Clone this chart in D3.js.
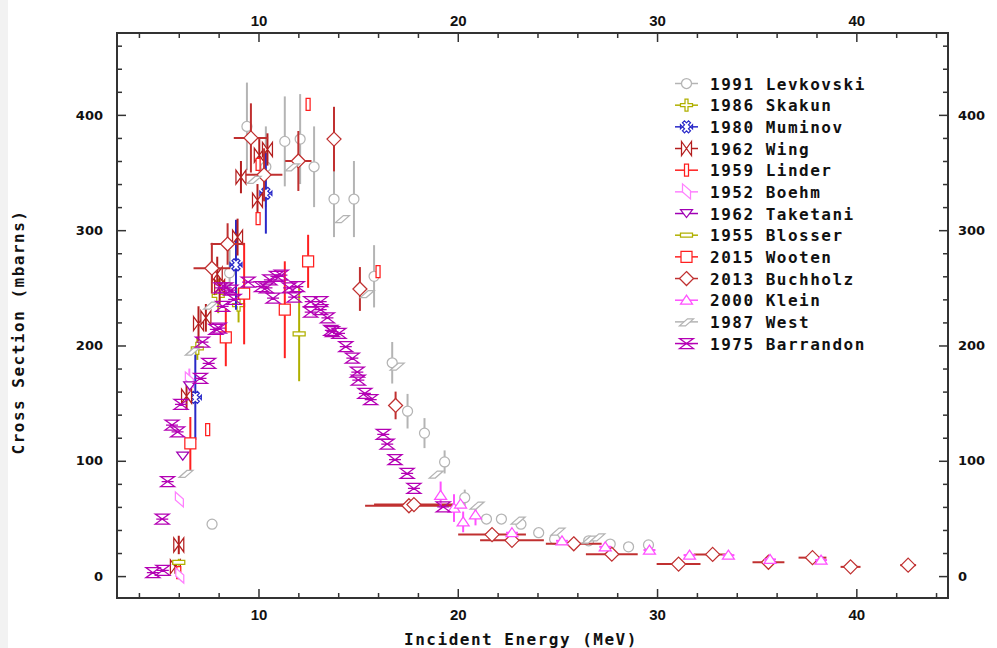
<!DOCTYPE html>
<html><head><meta charset="utf-8">
<script src="https://cdn.jsdelivr.net/npm/d3@7"></script>
<style>
body{margin:0;background:#fff;}
svg{display:block;}
.mono{font-family:"DejaVu Sans Mono","Liberation Mono",monospace;font-weight:bold;font-size:16px;letter-spacing:1.5px;fill:#111;}
.tick text{font-family:"DejaVu Sans",sans-serif;font-weight:bold;font-size:13px;fill:#111;}
</style></head>
<body>
<svg id="chart" width="997" height="648"></svg>
<script>
// ---- data: [energy MeV, cross section mb, dSigma, dEnergy] ----
const levkovski = [[7.67,45,4,0],[8.55,263,20,0],[9.42,390,38,0],[10.37,355,35,0],[11.32,377,39,0],[12.09,379,39,0],[12.79,355,35,0],[13.79,327,33,0],[14.79,327,33,0],[15.80,260,27,0],[16.71,185,18,0],[17.48,143,15,0],[18.33,124,13,0],[19.34,99,10,0],[20.35,68,7,0],[21.44,49.5,0,0],[22.19,49.5,0,0],[23.17,45,0,0],[24.06,37.6,0,0],[24.86,32,0,0],[26.57,30.6,0,0],[27.65,27.8,0,0],[28.57,25.4,0,0],[29.57,27,0,0]];
const skakun = [[6.93,197.5,10,0],[7.98,243,15,0],[9.0,235,15,0]];
const muminov = [[6.83,155,37,0],[8.87,270,39,0],[10.37,332,35,0]];
const wing = [[5.83,8,6,0],[6.0,27,8,0],[6.39,156,12,0],[6.99,219,15,0],[7.36,224,12,0],[7.93,262,15,0],[8.05,251,15,0],[8.95,294,16,0],[9.12,346,14,0],[9.95,326,14,0],[10.04,365,14,0],[10.45,370,14,0]];
const linder = [[6.0,3,3,0],[7.45,127,0,0],[9.98,310,0,0],[9.98,357,0,0],[12.49,409,0,0],[16.0,264,0,0]];
const boehm = [[6.05,0,0,0],[6.03,66,0,0],[6.53,170,10,0]];
const taketani = [[6.2,104,0,0],[6.55,165,0,0]];
const blosser = [[6.0,12,3,0],[12.04,210,41,0]];
const wooten = [[6.58,115,23,0],[8.36,207,25,0],[9.28,245,44,0],[11.32,231,42,0],[12.49,273,23,0]];
const buchholz = [[7.66,267,22,0.92],[8.45,288,18,0.85],[9.62,380,30,0.86],[10.28,348,23,0.92],[12.0,360,26,0.66],[13.79,379,28,0],[15.09,249,19,0],[16.88,148,12,0],[17.55,61,0,2.2],[17.8,62,0,2.0],[21.72,36,0,1.7],[22.72,31,0,1.6],[25.82,28,0,1.4],[27.73,19,0,1.3],[31.08,10.4,0,1.1],[32.79,18.8,0,0.95],[35.59,12,0,0.8],[37.8,16,0,0.7],[39.71,8,0,0.5],[42.6,9.5,0,0.4]];
const klein = [[19.14,70,12,0],[19.81,59,12,0],[20.14,62.5,0,0],[20.27,47,9,0],[20.89,53,9,0],[22.72,37.6,0,0.3],[25.23,30.6,0,0.3],[27.4,25.4,0,0.3],[29.62,22.6,0,0.3],[31.63,18.2,0,0.3],[33.58,18.2,0,0.3],[35.67,14.5,0,0.3],[38.23,13.9,0,0.3]];
const west = [[6.36,89,0,0],[6.68,195,0,0],[7.6,235,0,0],[9.78,344,0,0],[11.7,355,0,0],[14.21,310,0,0],[15.46,245,0,0],[16.96,182,0,0],[18.92,88.5,0,0],[20.97,61.6,0,0],[23.03,48.6,0,0],[25.03,39,0,0],[26.6,32,0,0],[27.03,34,0,0]];
const barrandon = [[4.7,3,0,0],[5.2,5,0,0],[5.17,49.5,0,0],[5.44,82,0,0],[5.66,131,0,0],[5.94,125,0,0],[6.11,149,0,0],[7.09,171.5,0,0],[7.19,203,0,0],[7.5,184.5,0,0],[7.86,214,0,0],[8.03,215,0,0],[8.11,250,0,0],[8.2,234,0,0],[8.36,250,0,0],[8.61,248,0,0],[8.78,240,0,0],[9.48,255,0,0],[10.15,251,0,0],[10.4,250,0,0],[10.57,257,0,0],[10.73,241,0,0],[10.9,260,0,0],[11.15,261,0,0],[11.54,250,0,0],[11.79,242,0,0],[11.95,251,0,0],[12.62,238,0,0],[12.62,229,0,0],[13.12,238,0,0],[13.12,231,0,0],[13.46,224,0,0],[13.63,213,0,0],[13.71,212,0,0],[14.04,210.6,0,0],[14.38,199,0,0],[14.71,189,0,0],[14.96,177,0,0],[15.01,170,0,0],[15.34,158.5,0,0],[15.63,153,0,0],[16.26,123,0,0],[16.46,114.5,0,0],[16.85,101,0,0],[17.46,89,0,0],[17.8,76,0,0],[19.27,60,0,0]];

const seriesNames = ["1991 Levkovski","1986 Skakun","1980 Muminov","1962 Wing","1959 Linder","1952 Boehm","1962 Taketani","1955 Blosser","2015 Wooten","2013 Buchholz","2000 Klein","1987 West","1975 Barrandon"];
const seriesData = [levkovski,skakun,muminov,wing,linder,boehm,taketani,blosser,wooten,buchholz,klein,west,barrandon];
const seriesColors = ["#b4b4b4","#b0b000","#2828c8","#b41e1e","#ff1e1e","#ff80ff","#a000b4","#b0b000","#ff2020","#c03030","#ff50ff","#b4b4b4","#b400b4"];
const seriesShapes = ["circle","plus","maltese","bowtie","vrect","bolt","tridown","hrect","square","diamond","triup","para","hourglass"];

const xTicksMajor = [10,20,30,40];
const yTicksMajor = [0,100,200,300,400];
const xTitle = "Incident Energy (MeV)";
const yTitle = "Cross Section (mbarns)";

// ---- layout ----
const L=117,R=948,T=33,B=598;
const svg=d3.select("#chart");
svg.append("rect").attr("x",0).attr("y",0).attr("width",8).attr("height",648).attr("fill","#f2f2f2");
const x=d3.scaleLinear().domain([2.9,44.6]).range([L,R]);
const y=d3.scaleLinear().domain([-19,471]).range([B,T]);

const shapes={
 circle:"M5,0A5,5 0 1,1 -5,0A5,5 0 1,1 5,0Z",
 plus:"M-1.5,-6L1.5,-6L1.5,-1.5L6,-1.5L6,1.5L1.5,1.5L1.5,6L-1.5,6L-1.5,1.5L-6,1.5L-6,-1.5L-1.5,-1.5Z",
 maltese:"M-2,-6L0,-4L2,-6L4,-4L2,-2L4,0L6,-2L6,2L4,0L2,2L4,4L2,6L0,4L-2,6L-4,4L-2,2L-4,0L-6,2L-6,-2L-4,0L-2,-2L-4,-4Z",
 bowtie:"M-5,-7L0,0L-5,7Z M5,-7L0,0L5,7Z",
 vrect:"M-2,-6L2,-6L2,6L-2,6Z",
 bolt:"M-4,-8L4,-1L4,7L-4,0Z",
 tridown:"M-6,-4L6,-4L0,4Z",
 hrect:"M-6,-2L6,-2L6,2L-6,2Z",
 square:"M-5.5,-5.5L5.5,-5.5L5.5,5.5L-5.5,5.5Z",
 diamond:"M0,-7L7,0L0,7L-7,0Z",
 triup:"M0,-5L6,4L-6,4Z",
 para:"M-7,4L-1,4L7,-3L1,-3Z",
 hourglass:"M-7,-5L7,-5L0,0L7,5L-7,5L0,0Z M-6,0L6,0"
};

// ---- axes ----
function addAxis(axisFn, scale, tx, ty, majors, minorStep, dom, showLabels, pad){
  const minors=d3.range(Math.ceil(dom[0]/minorStep)*minorStep, dom[1]+1e-9, minorStep).filter(v=>!majors.includes(v));
  const gMin=svg.append("g").attr("transform",`translate(${tx},${ty})`)
    .call(axisFn(scale).tickValues(minors).tickSize(-5).tickFormat(""));
  gMin.select(".domain").remove();
  const gMaj=svg.append("g").attr("transform",`translate(${tx},${ty})`)
    .call(axisFn(scale).tickValues(majors).tickSize(-9).tickPadding(pad).tickFormat(showLabels?d3.format("d"):""));
  gMaj.select(".domain").remove();
  [gMin,gMaj].forEach(g=>g.selectAll(".tick line").attr("stroke","#333").attr("stroke-width",1.5));
  return gMaj;
}
const xb=addAxis(d3.axisBottom,x,0,B,xTicksMajor,2,[2.9,44.6],true,11);
const xt=addAxis(d3.axisTop,x,0,T,xTicksMajor,2,[2.9,44.6],true,7);
const yl=addAxis(d3.axisLeft,y,L,0,yTicksMajor,20,[-19,471],true,14);
const yr=addAxis(d3.axisRight,y,R,0,yTicksMajor,20,[-19,471],true,10);
xb.selectAll(".tick text").style("font-family","'Liberation Sans',sans-serif").style("font-size","15px");
xt.selectAll(".tick text").style("font-family","'Liberation Sans',sans-serif").style("font-size","15px");

svg.append("rect").attr("x",L).attr("y",T).attr("width",R-L).attr("height",B-T)
  .attr("fill","none").attr("stroke","#333").attr("stroke-width",2);

// ---- data ----
const clipId="plotclip";
svg.append("clipPath").attr("id",clipId).append("rect").attr("x",L).attr("y",T).attr("width",R-L).attr("height",B-T);
const plot=svg.append("g").attr("clip-path",`url(#${clipId})`);

seriesData.forEach((data,i)=>{
  const c=seriesColors[i];
  const g=plot.append("g");
  data.forEach(d=>{
    const cx=x(d[0]), cy=y(d[1]);
    if(d[2]>0){
      g.append("line").attr("x1",cx).attr("x2",cx).attr("y1",y(d[1]-d[2])).attr("y2",y(d[1]+d[2]))
       .attr("stroke",c).attr("stroke-width",2);
    }
    if(d[3]>0){
      g.append("line").attr("y1",cy).attr("y2",cy).attr("x1",x(d[0]-d[3])).attr("x2",x(d[0]+d[3]))
       .attr("stroke",c).attr("stroke-width",2);
    }
  });
  g.selectAll("path.m").data(data).join("path").attr("class","m")
   .attr("d",shapes[seriesShapes[i]])
   .attr("transform",d=>`translate(${x(d[0])},${y(d[1])})`)
   .attr("fill","#fff").attr("fill-opacity",seriesShapes[i]==="hourglass"?0:1)
   .attr("stroke",c).attr("stroke-width",1.25);
});

// ---- legend ----
const lg=svg.append("g");
seriesNames.forEach((name,i)=>{
  const cy=83.5+i*21.67;
  const c=seriesColors[i];
  lg.append("line").attr("x1",675).attr("x2",698).attr("y1",cy).attr("y2",cy).attr("stroke",c).attr("stroke-width",1.5);
  lg.append("path").attr("d",shapes[seriesShapes[i]]).attr("transform",`translate(686.5,${cy})`)
    .attr("fill","#fff").attr("fill-opacity",seriesShapes[i]==="hourglass"?0:1).attr("stroke",c).attr("stroke-width",1.25);
  lg.append("text").attr("class","mono").attr("x",710).attr("y",cy+6).text(name);
});

// ---- titles ----
svg.append("text").attr("class","mono").attr("x",521).attr("y",645).attr("text-anchor","middle").text(xTitle);
svg.append("text").attr("class","mono").attr("transform","translate(24,332) rotate(-90)").attr("text-anchor","middle").text(yTitle);
</script>
</body></html>
